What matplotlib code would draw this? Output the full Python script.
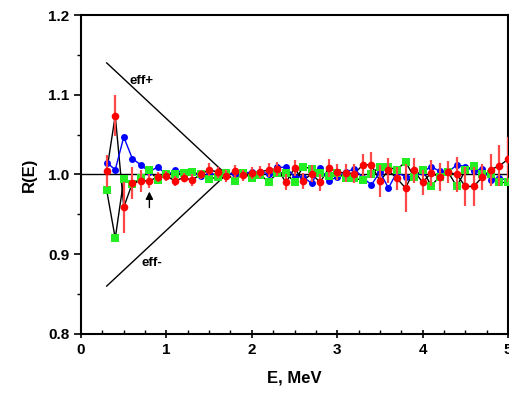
import numpy as np
import matplotlib
matplotlib.use('Agg')
import matplotlib.pyplot as plt
from matplotlib.ticker import MultipleLocator

plt.rcParams['font.family'] = ['Liberation Sans', 'DejaVu Sans']
plt.rcParams['font.weight'] = 'bold'

# Energy grid, MeV
energy = np.round(np.arange(0.3, 5.01, 0.1), 1)

red = [1.004, 1.074, 0.959, 0.989, 0.992, 0.992, 0.997, 0.998, 0.992, 0.996,
       0.993, 1.000, 1.006, 1.003, 0.998, 1.004, 0.999,
       1.002, 1.003, 1.006, 1.007, 0.990, 1.008, 0.992, 1.001, 0.990, 1.008,
       1.003, 1.002, 1.001, 1.012, 1.012, 0.992, 1.005, 0.995, 0.983, 1.005,
       0.990, 1.002, 0.997, 1.003, 1.000, 0.985, 0.985, 0.997, 1.006, 1.011, 1.019]
red_err = [0.020, 0.026, 0.032, 0.020, 0.014, 0.009, 0.006, 0.006, 0.006, 0.006,
           0.007, 0.006, 0.008, 0.007, 0.007, 0.008, 0.007,
           0.008, 0.008, 0.009, 0.009, 0.010, 0.010, 0.010, 0.011, 0.011, 0.011,
           0.010, 0.011, 0.012, 0.014, 0.016, 0.020, 0.016, 0.014, 0.030, 0.016,
           0.016, 0.016, 0.018, 0.014, 0.022, 0.024, 0.024, 0.016, 0.020, 0.026, 0.028]
blue = [1.015, 1.006, 1.047, 1.020, 1.012, 1.003, 1.010, 0.999, 1.005, 1.003,
        1.003, 0.998, 1.000, 1.001, 1.002, 1.000, 1.002,
        1.003, 1.003, 1.001, 1.009, 1.009, 0.997, 0.997, 0.989, 1.008, 0.992,
        0.997, 1.003, 1.007, 0.996, 0.987, 1.003, 0.983, 1.003, 0.997, 0.997,
        1.003, 1.010, 1.004, 1.003, 1.012, 1.010, 1.004, 1.007, 0.993, 0.996, 0.992]
green = [0.980, 0.920, 0.994, 0.988, 0.995, 1.005, 0.993, 1.001, 1.001, 1.002,
         1.003, 1.000, 0.994, 0.997, 1.002, 0.992, 1.002,
         0.995, 0.999, 0.991, 1.002, 1.002, 0.990, 1.010, 1.007, 1.002, 0.998,
         1.002, 0.995, 0.995, 0.993, 1.001, 1.010, 1.009, 1.006, 1.016, 0.997,
         1.006, 0.986, 0.997, 1.003, 0.985, 1.005, 1.011, 1.000, 1.000, 0.990, 0.990]

# efficiency envelope lines
eff_e = [0.3, 1.7]
eff_plus = [1.14, 1.0]
eff_minus = [0.86, 1.0]

fig = plt.figure(figsize=(5.1, 3.97), dpi=100)
ax = fig.add_axes([0.159, 0.159, 0.837, 0.803])

ax.axhline(1.0, color='black', lw=1.0, zorder=1)
ax.plot(eff_e, eff_plus, color='black', lw=1.0, zorder=1)
ax.plot(eff_e, eff_minus, color='black', lw=1.0, zorder=1)

# black connecting lines for red and green series
ax.plot(energy, red, color='black', lw=1.0, zorder=2)
ax.plot(energy, green, color='black', lw=1.0, zorder=2)

ax.plot(energy, blue, color='#0000ff', lw=1.0, marker='o', ms=5,
        markeredgewidth=0, zorder=3)
ax.plot(energy, green, ls='none', marker='s', ms=5.5, color='#22ee22',
        markeredgewidth=0, zorder=4)
ax.errorbar(energy, red, yerr=red_err, fmt='o', ms=5.5, color='#ff0000',
            ecolor='#ff4848', elinewidth=1.6, capsize=0,
            markeredgewidth=0, zorder=5)

ax.annotate('', xy=(0.8, 0.982), xytext=(0.8, 0.955),
            arrowprops=dict(arrowstyle='-|>', color='black', lw=1.0,
                            mutation_scale=11))

ax.text(0.57, 1.117, 'eff+', fontsize=9.5, fontweight='bold', va='center')
ax.text(0.71, 0.889, 'eff-', fontsize=9.5, fontweight='bold', va='center')

ax.set_xlim(0, 5)
ax.set_ylim(0.8, 1.2)
ax.xaxis.set_major_locator(MultipleLocator(1))
ax.xaxis.set_minor_locator(MultipleLocator(0.25))
ax.yaxis.set_major_locator(MultipleLocator(0.1))
ax.yaxis.set_minor_locator(MultipleLocator(0.05))
ax.tick_params(axis='both', which='major', labelsize=11, width=1.2, length=5)
ax.tick_params(axis='both', which='minor', width=1.0, length=3)
ax.tick_params(axis='y', which='both', direction='out', right=True)
ax.tick_params(axis='x', which='both', direction='in')
ax.tick_params(axis='x', which='major', direction='inout', length=6)
for lab in ax.get_xticklabels() + ax.get_yticklabels():
    lab.set_fontweight('bold')
for sp in ax.spines.values():
    sp.set_linewidth(1.5)

ax.set_xlabel('E, MeV', fontsize=12, fontweight='bold', labelpad=10)
ax.set_ylabel('R(E)', fontsize=12, fontweight='bold', labelpad=8)

fig.savefig('out.png', dpi=100)
